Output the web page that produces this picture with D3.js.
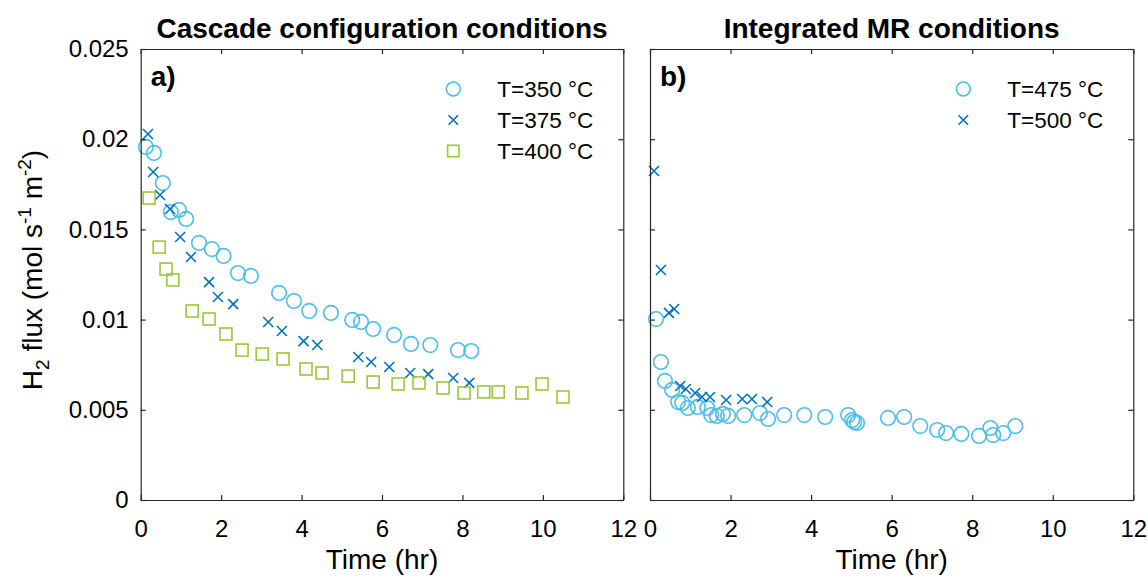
<!DOCTYPE html>
<html><head><meta charset="utf-8">
<script src="https://cdn.jsdelivr.net/npm/d3@7"></script>
<style>body{margin:0;background:#fff}svg{display:block}text{font-family:"Liberation Sans",Arial,sans-serif;fill:#000}</style>
</head><body><svg id="c" width="1148" height="579"></svg>
<script>
// Panel a) Cascade configuration
const t350 = [0.13,0.33,0.55,0.75,0.95,1.13,1.45,1.77,2.06,2.42,2.74,3.44,3.81,4.19,4.73,5.26,5.48,5.78,6.30,6.72,7.20,7.89,8.22];
const v350 = [0.01957,0.01924,0.01757,0.01596,0.01608,0.01558,0.01425,0.01391,0.01353,0.01258,0.01242,0.01148,0.01103,0.01048,0.01037,0.00998,0.00987,0.00948,0.00915,0.00865,0.00859,0.00831,0.00826];
const t375 = [0.18,0.31,0.48,0.73,0.98,1.25,1.70,1.92,2.30,3.17,3.51,4.05,4.39,5.41,5.73,6.18,6.70,7.15,7.77,8.17];
const v375 = [0.02029,0.01818,0.01691,0.01613,0.01458,0.01347,0.01208,0.01125,0.01086,0.00987,0.00937,0.00881,0.00859,0.00793,0.00765,0.00737,0.00704,0.00698,0.00676,0.00649];
const t400 = [0.21,0.46,0.63,0.80,1.28,1.70,2.12,2.52,3.02,3.54,4.11,4.51,5.16,5.78,6.40,6.92,7.52,8.04,8.53,8.89,9.48,9.98,10.50];
const v400 = [0.01674,0.01402,0.0128,0.0122,0.01048,0.01003,0.0092,0.00831,0.00809,0.00782,0.00726,0.00704,0.00687,0.00654,0.00643,0.00649,0.00621,0.00593,0.00599,0.00599,0.00593,0.00643,0.00571];
// Panel b) Integrated MR
const t475 = [0.15,0.27,0.37,0.55,0.70,0.80,0.94,1.19,1.42,1.52,1.66,1.81,1.94,2.34,2.73,2.93,3.33,3.83,4.35,4.92,5.02,5.07,5.14,5.91,6.31,6.71,7.13,7.35,7.73,8.17,8.45,8.52,8.77,9.07];
const v475 = [0.01003,0.00765,0.0066,0.0061,0.00543,0.00538,0.0051,0.00516,0.0051,0.00471,0.00466,0.00477,0.00466,0.00471,0.00482,0.00449,0.00471,0.00471,0.0046,0.00471,0.00443,0.00432,0.00427,0.00455,0.0046,0.0041,0.00388,0.00371,0.00366,0.00355,0.00399,0.0036,0.00371,0.0041];
const t500 = [0.10,0.27,0.47,0.60,0.75,0.89,1.12,1.29,1.49,1.89,2.29,2.53,2.91];
const v500 = [0.01824,0.01275,0.01037,0.01059,0.00632,0.00615,0.00593,0.00571,0.00571,0.00554,0.0056,0.0056,0.00543];

const xTicks = [0,2,4,6,8,10,12];
const yTicks = [0,0.005,0.01,0.015,0.02,0.025];
const yTickLabels = ["0","0.005","0.01","0.015","0.02","0.025"];
const titles = ["Cascade configuration conditions","Integrated MR conditions"];
const panelTags = ["a)","b)"];

const C_CIRC = "#4DBEEE", C_X = "#0072BD", C_SQ = "#99C93A";
const svg = d3.select("#c");
const plotTop = 49, plotBottom = 500;
const panels = [
  {x0:140.7, x1:623.3, series:[
    {t:t350, v:v350, m:"o", c:C_CIRC, label:"T=350 °C"},
    {t:t375, v:v375, m:"x", c:C_X, label:"T=375 °C"},
    {t:t400, v:v400, m:"s", c:C_SQ, label:"T=400 °C"}], ylabels:true},
  {x0:650, x1:1133.3, series:[
    {t:t475, v:v475, m:"o", c:C_CIRC, label:"T=475 °C"},
    {t:t500, v:v500, m:"x", c:C_X, label:"T=500 °C"}], ylabels:false}
];
const axC = "#262626";
function marker(g, m, c, x, y, s){
  if(m==="o") g.append("circle").attr("cx",x).attr("cy",y).attr("r",7.3*s).attr("fill","none").attr("stroke",c).attr("stroke-width",1.6);
  else if(m==="x"){ const d=5*s; g.append("path").attr("d",`M${x-d},${y-d}L${x+d},${y+d}M${x-d},${y+d}L${x+d},${y-d}`).attr("stroke",c).attr("stroke-width",1.6).attr("fill","none");}
  else { const d=6*s; g.append("rect").attr("x",x-d).attr("y",y-d).attr("width",2*d).attr("height",2*d).attr("fill","none").attr("stroke",c).attr("stroke-width",1.6);}
}
panels.forEach((p,i)=>{
  const x = d3.scaleLinear().domain([0,12]).range([p.x0,p.x1]);
  const y = d3.scaleLinear().domain([0,0.025]).range([plotBottom,plotTop]);
  const g = svg.append("g");
  p.series.forEach(s=>{
    const sg = g.append("g");
    s.t.forEach((tv,k)=>marker(sg, s.m, s.c, x(tv), y(s.v[k]), 1));
  });
  const ax = svg.append("g");
  ax.append("g").attr("transform",`translate(0,${plotBottom})`).call(d3.axisBottom(x).tickValues(xTicks).tickSizeInner(-5).tickSizeOuter(0).tickPadding(20).tickFormat(d3.format("d")));
  ax.append("g").attr("transform",`translate(0,${plotTop})`).call(d3.axisTop(x).tickValues(xTicks).tickSizeInner(-5).tickSizeOuter(0).tickFormat(""));
  ax.append("g").attr("transform",`translate(${p.x0},0)`).call(d3.axisLeft(y).tickValues(yTicks).tickSizeInner(-5).tickSizeOuter(0).tickPadding(12).tickFormat((d,k)=>p.ylabels?yTickLabels[k]:""));
  ax.append("g").attr("transform",`translate(${p.x1},0)`).call(d3.axisRight(y).tickValues(yTicks).tickSizeInner(-5).tickSizeOuter(0).tickFormat(""));
  ax.selectAll(".domain").attr("stroke",axC).attr("stroke-width",1.2);
  ax.selectAll(".tick line").attr("stroke",axC).attr("stroke-width",1.2);
  ax.selectAll(".tick text").attr("font-size",24).attr("fill","#262626").style("font-family","'Liberation Sans',Arial,sans-serif");
  svg.append("text").attr("x",(p.x0+p.x1)/2).attr("y",38).attr("text-anchor","middle").attr("font-size",28).attr("font-weight","bold").text(titles[i]);
  svg.append("text").attr("x",p.x0+10).attr("y",86).attr("font-size",28).attr("font-weight","bold").text(panelTags[i]);
  svg.append("text").attr("x",(p.x0+p.x1)/2).attr("y",569).attr("text-anchor","middle").attr("font-size",28).attr("fill","#262626").text("Time (hr)");
  p.series.forEach((s,k)=>{
    const ly = 89 + k*31;
    const lg = svg.append("g");
    marker(lg, s.m, s.c, p.x1-170, ly, 0.95);
    lg.append("text").attr("x",p.x1-126).attr("y",ly+8).attr("font-size",22.5).text(s.label);
  });
});
const yl = svg.append("text").attr("transform","translate(42,270) rotate(-90)").attr("text-anchor","middle").attr("font-size",28).attr("fill","#262626");
yl.append("tspan").text("H");
yl.append("tspan").attr("font-size",19).attr("dy",7).text("2");
yl.append("tspan").attr("dy",-7).text(" flux (mol s");
yl.append("tspan").attr("font-size",19).attr("dy",-11).text("-1");
yl.append("tspan").attr("dy",11).text(" m");
yl.append("tspan").attr("font-size",19).attr("dy",-11).text("-2");
yl.append("tspan").attr("dy",11).text(")");
</script></body></html>
